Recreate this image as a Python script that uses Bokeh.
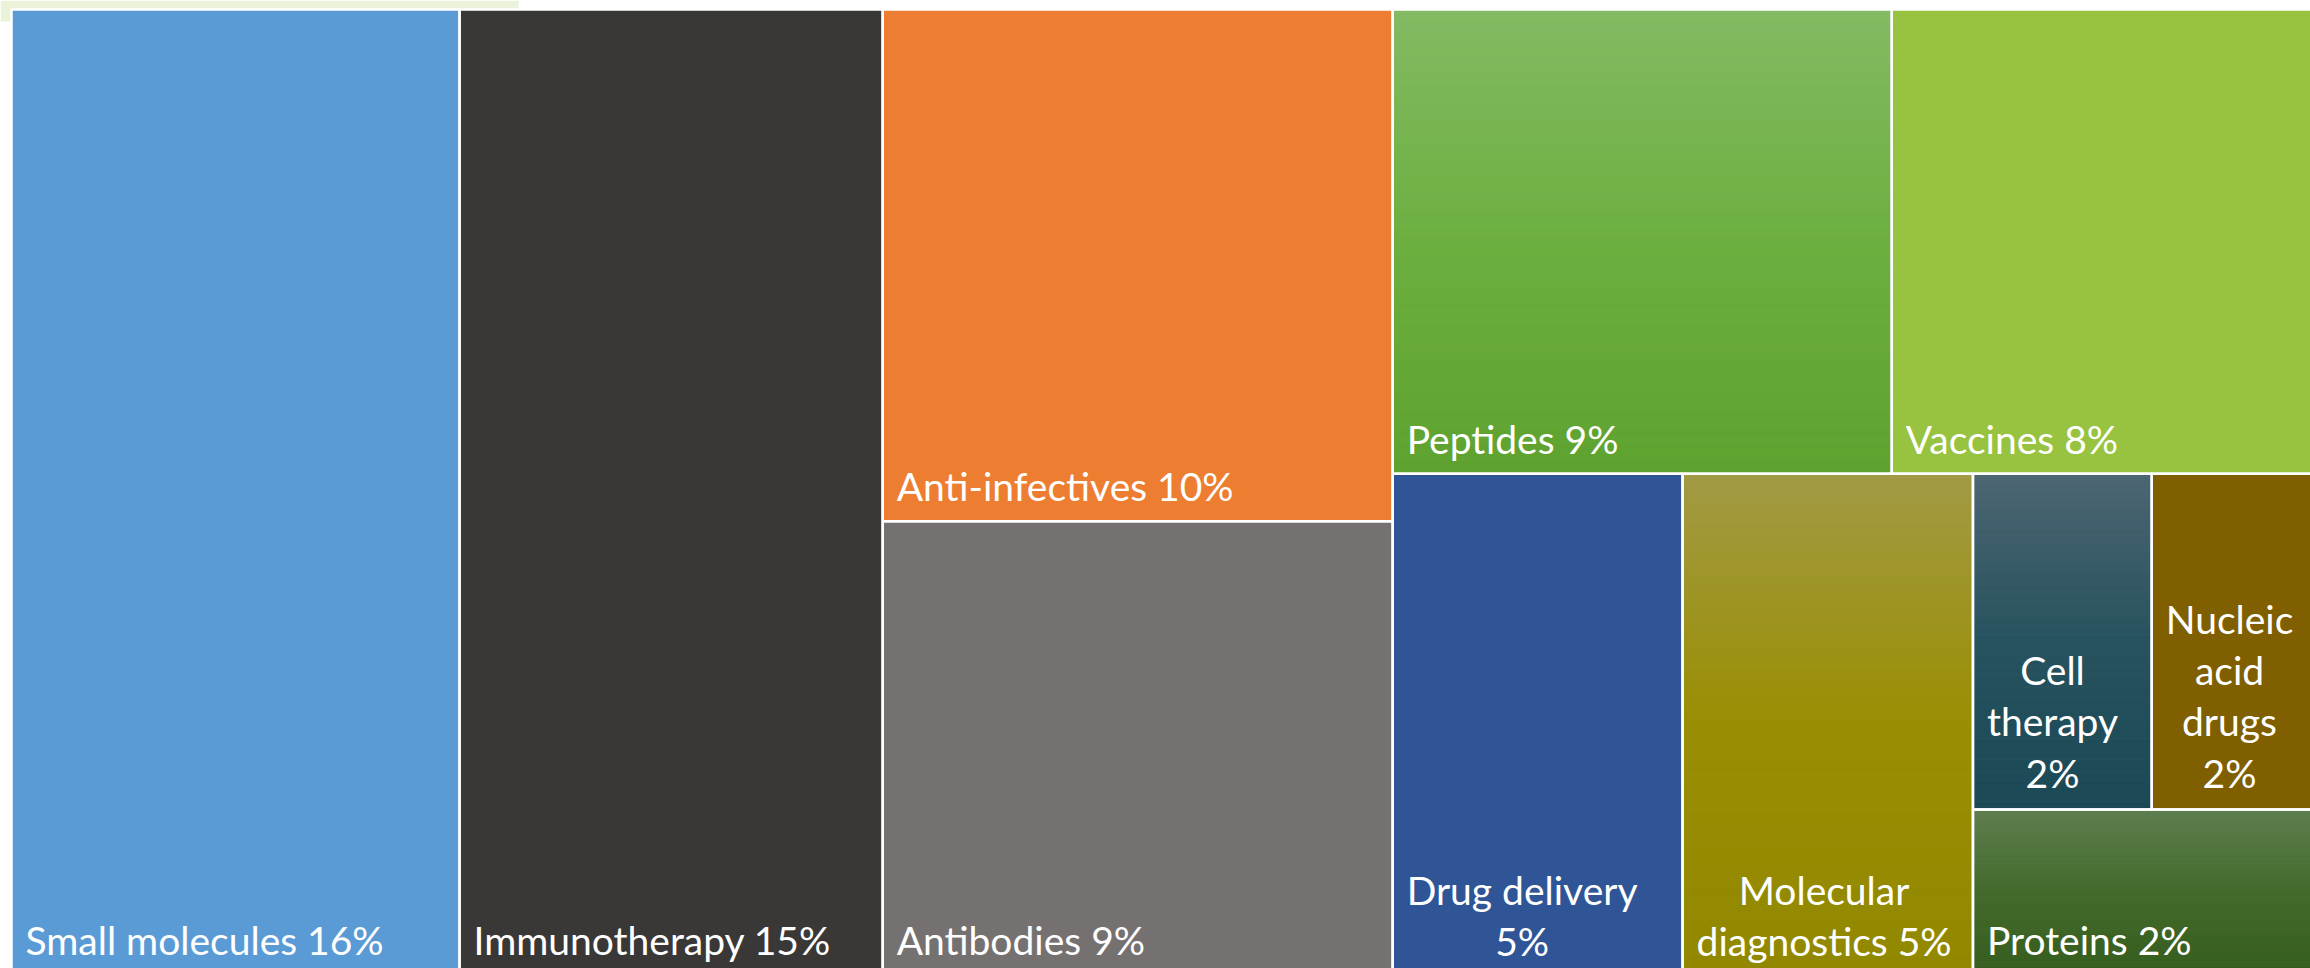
from bokeh.plotting import figure
from bokeh.models import Range1d, ColumnDataSource
from bokeh.embed import file_html
from bokeh.resources import INLINE
from bokeh.core.properties import value

# ---- data (shares; labels show rounded percentages) ----
categories = ["Small molecules", "Immunotherapy", "Anti-infectives", "Antibodies",
              "Peptides", "Vaccines", "Drug delivery", "Molecular diagnostics",
              "Cell therapy", "Nucleic acid drugs", "Proteins"]
shares = [16.20, 15.30, 9.78, 8.66, 8.68, 7.63, 5.44, 5.45, 2.25, 2.25, 2.21]
label_names = ["Small molecules", "Immunotherapy", "Anti-infectives", "Antibodies",
               "Peptides", "Vaccines", "Drug delivery", "Molecular\ndiagnostics",
               "Cell\ntherapy", "Nucleic\nacid\ndrugs", "Proteins"]
pct_joiner = [" ", " ", " ", " ", " ", " ", "\n", " ", "\n", "\n", " "]

# colours: one stop = solid, several stops = vertical gradient (top -> bottom)
fills = [
    [(0.0, "#5B9BD5")],
    [(0.0, "#3A3837")],
    [(0.0, "#ED7D31")],
    [(0.0, "#767171")],
    [(0.0, "#84BA63"), (0.5, "#6CAF40"), (1.0, "#5EA22F")],
    [(0.0, "#97C340")],
    [(0.0, "#2F5597")],
    [(0.0, "#A29A45"), (0.5, "#998E03"), (1.0, "#928800")],
    [(0.0, "#4C6672"), (0.5, "#27525F"), (1.0, "#1B4956")],
    [(0.0, "#7F5F00")],
    [(0.0, "#5F7E50"), (0.5, "#446A2C"), (1.0, "#365E1E")],
]

# treemap nesting: "h" = side by side, "v" = stacked top to bottom
tree = ("h", [0, 1, ("v", [2, 3]),
              ("v", [("h", [4, 5]),
                     ("h", [6, 7, ("v", [("h", [8, 9]), 10])])])])

# ---- layout ----
def total(node):
    if isinstance(node, int):
        return shares[node]
    return sum(total(c) for c in node[1])

rects = {}

def layout(node, x0, y0, x1, y1):
    if isinstance(node, int):
        rects[node] = (x0, y0, x1, y1)
        return
    orient, kids = node
    tot = total(node)
    pos = x0 if orient == "h" else y0
    for k in kids:
        frac = total(k) / tot
        if orient == "h":
            step = (x1 - x0) * frac
            layout(k, pos, y0, pos + step, y1)
        else:
            step = (y1 - y0) * frac
            layout(k, x0, pos, x1, pos + step)
        pos += step

BOX = (11, 9, 2330, 974)   # page-pixel placement of the whole treemap
layout(tree, *BOX)

def hex2rgb(h):
    h = h.lstrip("#")
    return tuple(int(h[i:i + 2], 16) for i in (0, 2, 4))

def color_at(stops, t):
    if len(stops) == 1:
        return stops[0][1]
    for (t0, c0), (t1, c1) in zip(stops[:-1], stops[1:]):
        if t <= t1:
            f = (t - t0) / (t1 - t0) if t1 > t0 else 0
            a, b = hex2rgb(c0), hex2rgb(c1)
            return "#%02x%02x%02x" % tuple(round(a[i] + (b[i] - a[i]) * f) for i in range(3))
    return stops[-1][1]

solid = dict(l=[], r=[], t=[], b=[], c=[])
strips = dict(l=[], r=[], t=[], b=[], c=[])
N = 80
for i in range(len(categories)):
    x0, y0, x1, y1 = rects[i]
    if len(fills[i]) == 1:
        for key, v in zip("lrtbc", (x0, x1, y0, y1, fills[i][0][1])):
            solid[key].append(v)
    else:
        for k in range(N):
            tt = y0 + (y1 - y0) * k / N
            bb = y0 + (y1 - y0) * (k + 1) / N
            for key, v in zip("lrtbc", (x0, x1, tt, bb, color_at(fills[i], (k + 0.5) / N))):
                strips[key].append(v)

outline = dict(l=[rects[i][0] for i in rects], r=[rects[i][2] for i in rects],
               t=[rects[i][1] for i in rects], b=[rects[i][3] for i in rects])

single = dict(x=[], y=[], text=[])
multi = dict(x=[], y=[], text=[])
for i in range(len(categories)):
    x0, y0, x1, y1 = rects[i]
    txt = label_names[i] + pct_joiner[i] + "%d%%" % round(shares[i])
    if "\n" in txt:
        multi["x"].append(x0 + 14)
        multi["y"].append(y1 - 10 if y1 > 968 else y1 - 14)
        multi["text"].append(txt)
    else:
        single["x"].append(x0 + 14)
        single["y"].append(y1 - 35)
        single["text"].append(txt)

# ---- figure ----
W, H = 2310, 968
p = figure(width=W, height=H, x_range=Range1d(0, W), y_range=Range1d(H, 0),
           output_backend="svg", toolbar_location=None, min_border=0)
p.axis.visible = False
p.grid.visible = False
p.outline_line_color = None
p.background_fill_color = "white"
p.border_fill_color = "white"

# pale slide background band at the top-left
p.quad(left=[0], right=[518], top=[0], bottom=[21], fill_color="#EAF2DA", line_color=None)

p.quad(left="l", right="r", top="t", bottom="b", fill_color="c", line_color=None,
       source=ColumnDataSource(solid))
p.quad(left="l", right="r", top="t", bottom="b", fill_color="c", line_color="c",
       line_width=1, source=ColumnDataSource(strips))
p.quad(left="l", right="r", top="t", bottom="b", fill_alpha=0, line_color="white",
       line_width=2.5, source=ColumnDataSource(outline))

font = value("Lato")
p.text(x="x", y="y", text="text", source=ColumnDataSource(single), text_color="white",
       text_font=font, text_font_size="39px", text_align="left", text_baseline="middle")
p.text(x="x", y="y", text="text", source=ColumnDataSource(multi), text_color="white",
       text_font=font, text_font_size="39px", text_align="center", anchor="bottom_left",
       text_line_height=1.11)

open("out.html", "w").write(file_html(p, INLINE))
